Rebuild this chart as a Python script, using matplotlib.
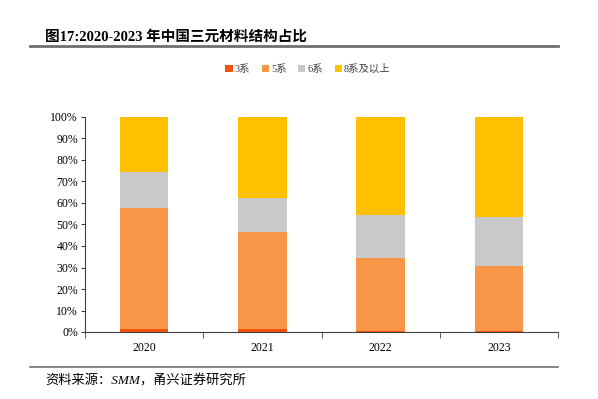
import matplotlib
matplotlib.use("Agg")
import matplotlib.pyplot as plt
from matplotlib.lines import Line2D
from matplotlib.ticker import PercentFormatter
import numpy as np

plt.rcParams['font.family'] = ['Liberation Serif', 'Noto Sans CJK SC']

years = ['2020', '2021', '2022', '2023']
series_names = ['3系', '5系', '6系', '8系及以上']
s3 = [1.5, 1.5, 0.5, 0.5]
s5 = [56.0, 45.0, 34.0, 30.0]
s6 = [17.0, 16.0, 20.0, 23.0]
s8 = [25.5, 37.5, 45.5, 46.5]
colors = ['#F4520C', '#F79646', '#C9C9C9', '#FFC000']

fig = plt.figure(figsize=(5.98, 3.99), dpi=100)
ax = fig.add_axes([85 / 598, 1 - 332 / 399, 473 / 598, 215 / 399])

x = np.arange(len(years))
bottom = np.zeros(len(years))
for name, vals, c in zip(series_names, [s3, s5, s6, s8], colors):
    ax.bar(x, vals, width=0.41, bottom=bottom, color=c, label=name, linewidth=0)
    bottom += np.array(vals)

ax.set_xlim(-0.5, len(years) - 0.5)
ax.set_ylim(0, 100)
ax.set_yticks(np.arange(0, 101, 10))
ax.yaxis.set_major_formatter(PercentFormatter(decimals=0))
ax.set_xticks(x)
ax.set_xticklabels(years)
ax.set_xticks(np.arange(-0.5, len(years), 1), minor=True)
ax.tick_params(axis='x', which='major', length=0, labelsize=8.5, pad=7)
ax.tick_params(axis='x', which='minor', length=4, direction='out', color='#404040')
ax.tick_params(axis='y', labelsize=8.5, length=3, direction='out', color='#404040', pad=2)
for s in ['top', 'right']:
    ax.spines[s].set_visible(False)
for s in ['left', 'bottom']:
    ax.spines[s].set_color('#404040')
    ax.spines[s].set_linewidth(0.8)

ax.legend(loc='center', bbox_to_anchor=(308 / 598, 1 - 69 / 399), bbox_transform=fig.transFigure,
          ncol=4, frameon=False, fontsize=7.5, handlelength=0.7, handleheight=0.7,
          handletextpad=0.2, columnspacing=1.1, labelcolor='#404040')

fig.text(45 / 598, 1 - 37 / 399, '图17:2020-2023 年中国三元材料结构占比', fontsize=10.5,
         fontweight='bold', va='center', ha='left')
fig.add_artist(Line2D([30 / 598, 558 / 598], [1 - 46 / 399, 1 - 46 / 399],
                      color='#6F6F6F', linewidth=2.0, transform=fig.transFigure))
fig.add_artist(Line2D([30 / 598, 558 / 598], [1 - 367 / 399, 1 - 367 / 399],
                      color='#6F6F6F', linewidth=1.2, transform=fig.transFigure))
fig.text(45 / 598, 1 - 381 / 399, '资料来源：SMM，甬兴证券研究所', fontsize=9.5,
         style='italic', va='center', ha='left')

fig.savefig('out.png', dpi=100)
